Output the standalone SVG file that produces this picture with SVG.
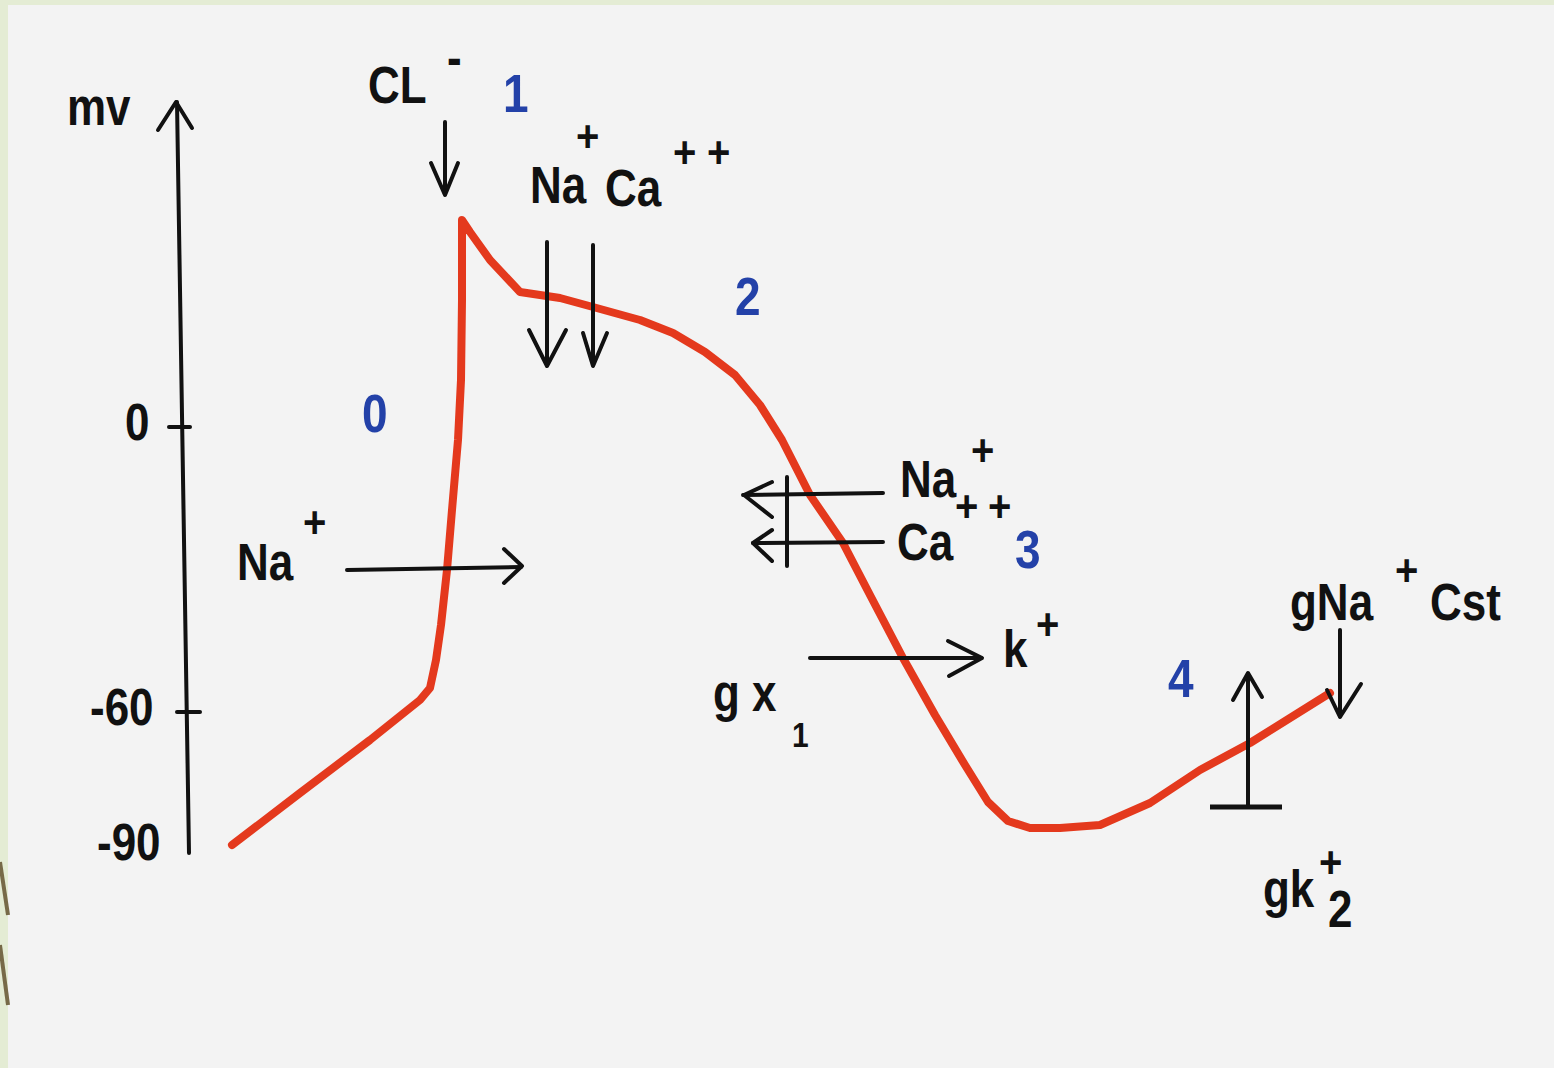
<svg xmlns="http://www.w3.org/2000/svg" width="1554" height="1068" viewBox="0 0 1554 1068">
<style>
.t{font-family:"Liberation Sans",Arial,sans-serif;font-weight:bold;font-size:44px;fill:#111}
.p{font-family:"Liberation Sans",Arial,sans-serif;font-weight:bold;font-size:40px;fill:#111}
.b{font-family:"Liberation Sans",Arial,sans-serif;font-weight:bold;font-size:46px;fill:#2341a8}
.s{font-family:"Liberation Sans",Arial,sans-serif;font-weight:bold;font-size:30px;fill:#111}
.ln{stroke:#111;stroke-width:4;fill:none;stroke-linecap:round;stroke-linejoin:round}
.hd{stroke:#111;stroke-width:4;fill:none;stroke-linecap:round;stroke-linejoin:round}
</style>
<rect x="0" y="0" width="1554" height="1068" fill="#e4ecd4"/>
<rect x="8" y="5" width="1546" height="1063" fill="#f3f3f3"/>
<g id="border-deco" stroke="#776a48" stroke-width="4">
<line x1="0" y1="862" x2="8" y2="915"/>
<line x1="0" y1="945" x2="8" y2="1005"/>
</g>
<g id="axis">
<line class="ln" x1="177" y1="102" x2="189" y2="853"/>
<polyline class="hd" points="158,130 176,102 192,128"/>
<line class="ln" x1="169" y1="427" x2="190" y2="427"/>
<line class="ln" x1="177" y1="712" x2="200" y2="712"/>
<text class="t" transform="translate(67,125) scale(1,1.18)">mv</text>
<text class="t" transform="translate(125,440) scale(1,1.18)">0</text>
<text class="t" transform="translate(90,725) scale(1,1.18)">-60</text>
<text class="t" transform="translate(97,860) scale(1,1.18)">-90</text>
</g>
<g id="curve">
<polyline points="232,845 300,793 370,740 420,700 430,688 436,660 441,625 447,570 452,510 458,440 461,380 462,300 462,220 470,232 490,260 520,292 560,298 593,307 640,320 673,333 705,352 735,375 760,405 782,440 810,495 843,543 870,595 903,658 935,715 965,765 988,802 1008,821 1030,828 1060,828 1100,825 1150,803 1200,770 1250,743 1330,693" fill="none" stroke="#e4391d" stroke-width="8" stroke-linejoin="round" stroke-linecap="round"/>
</g>
<g id="phase-labels">
<text class="b" transform="translate(362,432) scale(1,1.15)">0</text>
<text class="b" transform="translate(503,112) scale(1,1.15)">1</text>
<text class="b" transform="translate(735,315) scale(1,1.15)">2</text>
<text class="b" transform="translate(1015,568) scale(1,1.15)">3</text>
<text class="b" transform="translate(1168,697) scale(1,1.15)">4</text>
</g>
<g id="connectors">
<line class="ln" x1="445" y1="122" x2="445" y2="193"/>
<polyline class="hd" points="431,163 445,195 458,163"/>
<line class="ln" x1="547" y1="242" x2="547" y2="364"/>
<polyline class="hd" points="529,330 547,366 566,330"/>
<line class="ln" x1="593" y1="245" x2="593" y2="364"/>
<polyline class="hd" points="583,333 593,366 607,333"/>
<line class="ln" x1="347" y1="570" x2="521" y2="567"/>
<polyline class="hd" points="504,549 522,566 504,583"/>
<line class="ln" x1="743" y1="495" x2="883" y2="493"/>
<polyline class="hd" points="772,482 744,495 772,517"/>
<line class="ln" x1="753" y1="543" x2="883" y2="542"/>
<polyline class="hd" points="772,530 753,543 772,561"/>
<line class="ln" x1="787" y1="477" x2="787" y2="566"/>
<line class="ln" x1="810" y1="658" x2="981" y2="658"/>
<polyline class="hd" points="948,641 982,658 949,676"/>
<line class="ln" x1="1248" y1="805" x2="1248" y2="674"/>
<polyline class="hd" points="1233,700 1248,673 1262,697"/>
<line x1="1210" y1="807" x2="1282" y2="807" stroke="#111" stroke-width="5"/>
<line class="ln" x1="1340" y1="630" x2="1340" y2="716"/>
<polyline class="hd" points="1327,690 1340,717 1361,684"/>
</g>
<g id="ion-labels">
<text class="t" transform="translate(368,103) scale(1,1.18)">CL</text>
<text class="t" transform="translate(447,75) scale(1,1.18)">-</text>
<text class="p" transform="translate(576,152) scale(1,1.12)">+</text>
<text class="t" transform="translate(530,203) scale(1,1.18)">Na</text>
<text class="t" transform="translate(605,206) scale(1,1.18)">Ca</text>
<text class="p" transform="translate(673,168) scale(1,1.12)">+</text>
<text class="p" transform="translate(707,168) scale(1,1.12)">+</text>
<text class="t" transform="translate(237,580) scale(1,1.18)">Na</text>
<text class="p" transform="translate(303,538) scale(1,1.12)">+</text>
<text class="t" transform="translate(900,497) scale(1,1.18)">Na</text>
<text class="p" transform="translate(971,466) scale(1,1.12)">+</text>
<text class="p" transform="translate(955,522) scale(1,1.12)">+</text>
<text class="p" transform="translate(988,522) scale(1,1.12)">+</text>
<text class="t" transform="translate(897,560) scale(1,1.18)">Ca</text>
<text class="t" transform="translate(1003,667) scale(1,1.18)">k</text>
<text class="p" transform="translate(1036,640) scale(1,1.12)">+</text>
<text class="t" transform="translate(713,711) scale(1,1.18)">g x</text>
<text class="s" transform="translate(792,747) scale(1,1.15)">1</text>
<text class="t" transform="translate(1290,620) scale(1,1.18)">gNa</text>
<text class="p" transform="translate(1395,586) scale(1,1.12)">+</text>
<text class="t" transform="translate(1430,620) scale(1,1.18)">Cst</text>
<text class="t" transform="translate(1263,907) scale(1,1.18)">gk</text>
<text class="p" transform="translate(1319,878) scale(1,1.12)">+</text>
<text class="t" transform="translate(1328,927) scale(1,1.18)">2</text>
</g>
</svg>
